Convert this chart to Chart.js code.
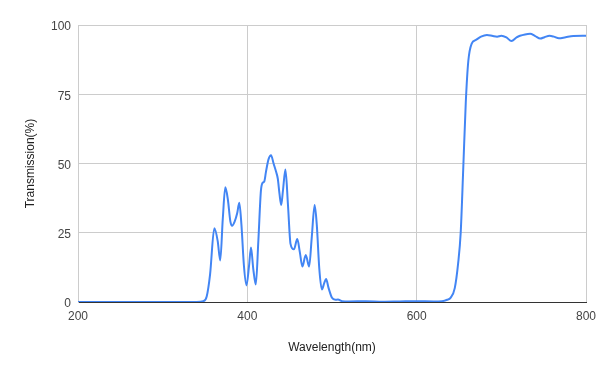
<!DOCTYPE html>
<html>
<head>
<meta charset="utf-8">
<script src="https://cdn.jsdelivr.net/npm/chart.js@4"></script>
<style>
    html, body { margin: 0; padding: 0; background: #fff; }
    #wrap { width: 605px; height: 374px; }
</style>
</head>
<body>
<div id="wrap"><canvas id="chart"></canvas></div>
<script>
// wavelength (nm) and transmission (%)
const wavelengths = [
    200, 300, 340, 348, 352, 356, 361, 365, 368, 371, 374, 377, 380, 382, 385, 388, 390.5, 393, 396, 399,
    402, 404.3, 407, 410, 413, 416, 418, 420, 422, 425, 428, 431, 434, 436, 438, 440, 442, 445, 448, 451,
    455, 459, 462, 465, 469, 473, 476, 479.5, 482, 485, 488, 491, 493, 496, 500, 504, 507, 512, 520, 540,
    560, 580, 600, 620, 630, 636, 640, 645, 649, 652, 655, 658, 661, 665, 670, 676, 683, 690, 695, 700,
    706, 712, 718, 722, 728, 734, 740, 746, 751, 757, 762, 768, 776, 785, 800
];
const transmission = [
    0, 0, 0, 0.3, 2, 10, 26.6, 22, 15, 30, 41.4, 37, 29, 27.5, 29, 32, 35.8, 28, 13, 6,
    13, 19.7, 12, 6.3, 22, 40, 43, 43.5, 47, 51.5, 53, 50, 47, 44.5, 39, 35, 40, 47.8, 35, 21,
    19, 22.7, 18, 12.8, 17, 12.8, 23, 35, 28, 12, 4.5, 7, 8.3, 5, 1.5, 0.8, 0.9, 0.3, 0.2, 0.3,
    0.1, 0.2, 0.3, 0.2, 0.3, 0.8, 1.5, 5, 14, 25, 48, 72, 87, 93.3, 94.6, 95.8, 96.4, 96, 95.8, 96.1,
    95.5, 94.2, 95.5, 96.1, 96.6, 96.8, 96, 95.1, 95.6, 96.1, 95.8, 95.2, 95.6, 96, 96.1
];
const xTicks = [200, 400, 600, 800];
const yTicks = [0, 25, 50, 75, 100];

const points = wavelengths.map((w, i) => ({ x: w, y: transmission[i] }));
const font = { family: 'Arial, "Liberation Sans", sans-serif', size: 12 };

const ctx = document.getElementById('chart').getContext('2d');
const chart = new Chart(ctx, {
    type: 'line',
    data: {
        datasets: [{
            data: points,
            borderColor: '#4285f4',
            borderWidth: 2,
            pointRadius: 0,
            cubicInterpolationMode: 'monotone',
            fill: false
        }]
    },
    options: {
        responsive: true,
        maintainAspectRatio: false,
        animation: false,
        layout: { padding: { left: 19, right: 19, top: 25, bottom: 15 } },
        plugins: {
            legend: { display: false },
            tooltip: { enabled: false }
        },
        scales: {
            x: {
                type: 'linear',
                min: 200,
                max: 800,
                afterBuildTicks: scale => { scale.ticks = xTicks.map(v => ({ value: v })); },
                afterFit: scale => { scale.height = 57; },
                grid: { color: '#cccccc', drawTicks: false },
                border: { color: '#333333', width: 1 },
                ticks: { color: '#444444', font: font, padding: 7 },
                title: { display: true, text: 'Wavelength(nm)', color: '#222222', font: font }
            },
            y: {
                min: 0,
                max: 100,
                afterBuildTicks: scale => { scale.ticks = yTicks.map(v => ({ value: v })); },
                afterFit: scale => { scale.width = 59; },
                grid: { color: '#cccccc', drawTicks: false },
                border: { color: '#cccccc' },
                ticks: { color: '#444444', font: font, padding: 7, labelOffset: 2 },
                title: { display: true, text: 'Transmission(%)', color: '#222222', font: font }
            }
        }
    }
});
</script>
</body>
</html>
